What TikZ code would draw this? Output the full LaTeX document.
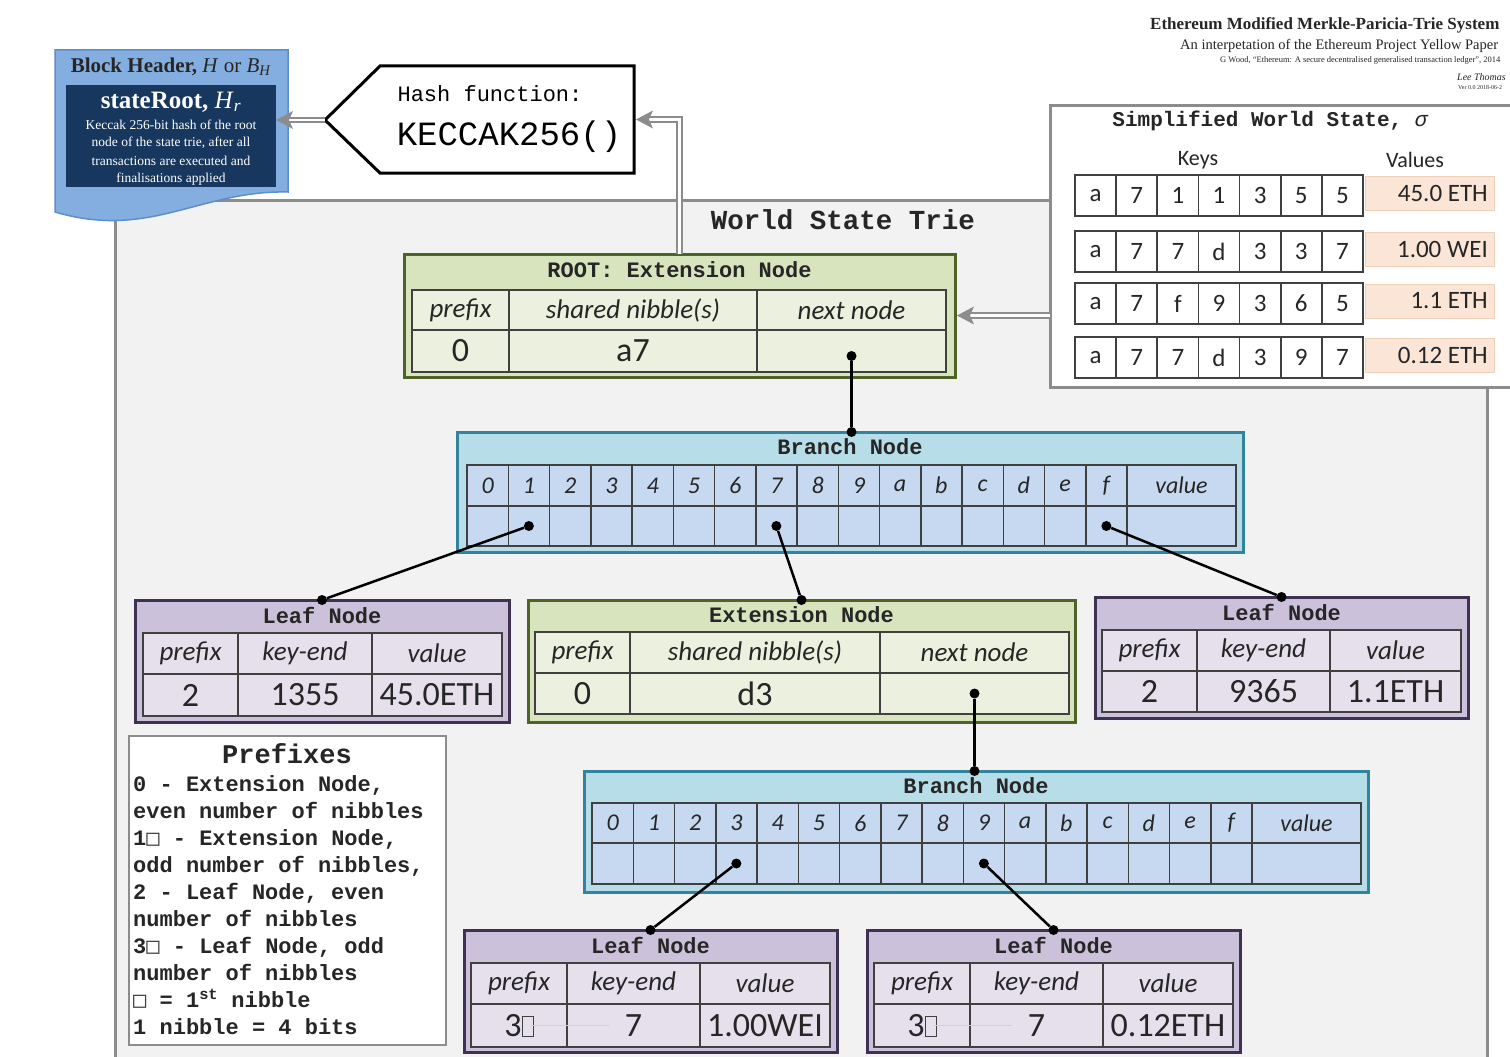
\documentclass[tikz,border=0pt]{standalone}
\usepackage{fontspec}
\usetikzlibrary{calc,arrows.meta}
\newfontfamily\calfont{Carlito}
\newfontfamily\monof{Liberation Mono}
\newfontfamily\serf{Liberation Serif}
\newfontfamily\djm{DejaVu Sans Mono}
\definecolor{grnF}{HTML}{D7E4BD}
\definecolor{grnC}{HTML}{EBF1DE}
\definecolor{grnB}{HTML}{4F6228}
\definecolor{cyF}{HTML}{B7DEE8}
\definecolor{cyC}{HTML}{C6D9F1}
\definecolor{cyB}{HTML}{31849B}
\definecolor{puF}{HTML}{CCC1DA}
\definecolor{puC}{HTML}{E5E0EC}
\definecolor{puB}{HTML}{3F3151}
\definecolor{cellB}{HTML}{404040}
\definecolor{trieF}{HTML}{F2F2F2}
\definecolor{trieB}{HTML}{8C8C8C}
\definecolor{bhF}{HTML}{85AEE0}
\definecolor{bhB}{HTML}{5B8FCB}
\definecolor{navy}{HTML}{17375E}
\definecolor{peach}{HTML}{FBE5D6}
\definecolor{arrG}{HTML}{8C8C8C}
\definecolor{txt}{HTML}{262626}
\newcommand\cellb[7]{\node[inner sep=0pt,outer sep=0pt,anchor=north west,minimum width={#5-#3},minimum height={#6-#4},#2] (#1) at (#3,#4) {#7};}
\newcommand\sqbox{{\djm\mdseries\color{darkgray}□}}
\newcommand\bigsq{{\color{darkgray}\setlength\fboxrule{1pt}\setlength\fboxsep{0pt}\fbox{\phantom{\rule{10pt}{19pt}}}}}
\newcommand\lefttip[1]{\fill[arrG] (#1) -- ($(#1)+(17,-9)$) -- ($(#1)+(13,0)$) -- ($(#1)+(17,9)$) -- cycle;}
\begin{document}
\begin{tikzpicture}[x=1pt,y=-1pt,
  greenbox/.style={draw=grnB,fill=grnF,line width=3pt},
  bluebox/.style={draw=cyB,fill=cyF,line width=3pt},
  purpbox/.style={draw=puB,fill=puF,line width=3pt},
  hdr/.style={font=\monof\bfseries\fontsize{22}{24}\selectfont,text=txt,inner sep=0pt},
  glab/.style={draw=cellB,fill=grnC,line width=1.5pt,text=txt,font=\calfont\itshape\fontsize{27}{30}\selectfont},
  gval/.style={glab,font=\calfont\fontsize{34}{36}\selectfont},
  plab/.style={draw=cellB,fill=puC,line width=1.5pt,text=txt,font=\calfont\itshape\fontsize{27}{30}\selectfont},
  pval/.style={plab,font=\calfont\fontsize{34}{36}\selectfont},
  blab/.style={draw=cellB,fill=cyC,line width=1.5pt,text=txt,font=\calfont\itshape\fontsize{24}{26}\selectfont},
  bcell/.style={draw=cellB,fill=cyC,line width=1.5pt},
  kcell/.style={draw=cellB,fill=white,line width=1.8pt,text=txt,font=\calfont\fontsize{25}{27}\selectfont},
  vcell/.style={fill=peach,draw=peach!80!brown,line width=0.5pt},
  vtext/.style={anchor=east,inner sep=0pt,text=txt,font=\calfont\fontsize{25}{27}\selectfont},
  conn/.style={line width=2.5pt,black},
  jdot/.style={circle,fill=black,inner sep=0pt,minimum size=10pt},
  dbl/.style={draw=arrG,line width=2pt,double=white,double distance=2.5pt,shorten >=12pt},
  ptext/.style={anchor=base west,inner sep=0pt,text=txt,font=\monof\bfseries\fontsize{22}{24}\selectfont},
  ttext/.style={anchor=west,inner sep=0pt,text=txt},
]
\useasboundingbox (0,0) rectangle (1510,1057);
\clip (0,0) rectangle (1510,1057);
\fill[white] (0,0) rectangle (1510,1057);

% title block top right
\node[ttext,font=\serf\bfseries\fontsize{17}{19}\selectfont] (t1) at (1150,25) {Ethereum Modified Merkle-Paricia-Trie System};
\node[ttext,font=\serf\fontsize{14.5}{16}\selectfont] (t2) at (1180,46) {An interpetation of the Ethereum Project Yellow Paper};
\node[ttext,font=\serf\fontsize{8.5}{9}\selectfont] (t3) at (1220,60) {G Wood, “Ethereum: A secure decentralised generalised transaction ledger”, 2014};
\node[ttext,font=\serf\itshape\fontsize{10}{11}\selectfont] (t4) at (1457,77) {Lee Thomas};
\node[ttext,font=\serf\fontsize{6}{7}\selectfont] (t5) at (1458,88) {Ver 0.0 2018-06-2};

% world state trie frame
\cellb{trie}{draw=trieB,fill=trieF,line width=3pt}{115}{200}{1487}{1080}{}
\node[font=\monof\bfseries\fontsize{27.5}{30}\selectfont,text=txt] (trietitle) at (843,220) {World State Trie};

% block header
\draw[fill=bhF,draw=bhB,line width=1.5pt] (55,50) -- (288,50) -- (288,192) .. controls (200,190) and (150,240) .. (55,212) -- cycle;
\node[font=\serf\fontsize{21}{23}\selectfont,text=txt] (bht) at (171,67) {\textbf{Block Header,} \textit{H} or \textit{B}\textsubscript{\textit{H}}};
\cellb{sr}{fill=navy}{66}{85}{276}{187}{}
\node[font=\serf\fontsize{25}{27}\selectfont,text=white] (srt) at (171,102) {\textbf{stateRoot,} \textit{H}\textsubscript{\textit{r}}};
\node[font=\serf\fontsize{13.5}{15}\selectfont,text=white] (srl1) at (171,125) {Keccak 256-bit hash of the root};
\node[font=\serf\fontsize{13.5}{15}\selectfont,text=white] (srl2) at (171,143) {node of the state trie, after all};
\node[font=\serf\fontsize{13.5}{15}\selectfont,text=white] (srl3) at (171,161) {transactions are executed and};
\node[font=\serf\fontsize{13.5}{15}\selectfont,text=white] (srl4) at (171,179) {finalisations applied};

% hash function
\cellb{hash}{}{380}{66}{634}{173}{}
\coordinate (hashtip) at (325,120);
\draw[black,line width=3pt,fill=white,line join=miter] (hashtip) -- (hash.north west) -- (hash.north east) -- (hash.south east) -- (hash.south west) -- cycle;
\node[font=\monof\fontsize{22}{24}\selectfont,text=black] (hashl) at (490,94) {Hash function:};
\node[font=\monof\fontsize{34}{36}\selectfont,text=black] (hashk) at (509,137) {KECCAK256()};

% simplified world state
\cellb{ws}{draw=trieB,fill=white,line width=3pt}{1050}{105}{1525}{387}{}
\node[font=\monof\bfseries\fontsize{21}{23}\selectfont,text=txt] (wst) at (1270,121) {Simplified World State, {\mdseries\itshape σ}};
\node[font=\calfont\fontsize{22}{24}\selectfont,text=txt] (wskeys) at (1198,160) {Keys};
\node[font=\calfont\fontsize{22}{24}\selectfont,text=txt] (wsvals) at (1415,160) {Values};
\foreach \r/\yt/\ka/\kb/\kc/\kd/\ke/\kf/\kg/\val in {1/175/a/7/1/1/3/5/5/45.0 ETH, 2/231/a/7/7/d/3/3/7/1.00 WEI, 3/283/a/7/f/9/3/6/5/1.1 ETH, 4/337/a/7/7/d/3/9/7/0.12 ETH}{
  \foreach \j/\k in {0/\ka,1/\kb,2/\kc,3/\kd,4/\ke,5/\kf,6/\kg}{
    \pgfmathsetmacro\xa{1075+\j*41.14}\pgfmathsetmacro\xb{\xa+41.14}\pgfmathsetmacro\yb{\yt+41}
    \cellb{ws-k\r-\j}{kcell}{\xa}{\yt}{\xb}{\yb}{\k}
  }
  \pgfmathsetmacro\ya{\yt+1}\pgfmathsetmacro\yc{\yt+35}
  \cellb{ws-v\r}{vcell}{1365}{\ya}{1494}{\yc}{}
  \node[vtext] (ws-vt\r) at ($(ws-v\r.east)+(-6,0)$) {\val};
}

% ROOT extension node
\cellb{root}{greenbox}{404}{254}{955}{377}{}
\node[hdr] (roott) at (679.5,270) {ROOT: Extension Node};
\cellb{r-h1}{glab}{412}{290}{509}{330}{prefix}
\cellb{r-h2}{glab}{509}{290}{757}{330}{shared nibble(s)}
\cellb{r-h3}{glab}{757}{290}{946}{330}{next node}
\cellb{r-v1}{gval}{412}{330}{509}{372}{0}
\cellb{r-v2}{gval}{509}{330}{757}{372}{a7}
\cellb{r-v3}{gval}{757}{330}{946}{372}{}

% double arrows
\coordinate (srE) at (sr.east |- hashtip);
\coordinate (hashE) at ($(hash.east)+(2,0)$);
\coordinate (rootE) at ($(root.east)+(2,0)$);
\draw[dbl] (hashtip) -- (srE);
\lefttip{srE}
\draw[dbl] (root.north) |- (hashE);
\lefttip{hashE}
\draw[dbl] (ws.west |- root.east) -- (rootE);
\lefttip{rootE}

% Branch node 1
\cellb{b1}{bluebox}{457}{432}{1243}{552}{}
\node[hdr] (b1t) at (850,447) {Branch Node};
\foreach \i/\l in {0/0,1/1,2/2,3/3,4/4,5/5,6/6,7/7,8/8,9/9,10/a,11/b,12/c,13/d,14/e,15/f}{
  \pgfmathsetmacro\xa{467+\i*41.25}\pgfmathsetmacro\xb{\xa+41.25}
  \cellb{b1h\i}{blab}{\xa}{465}{\xb}{506}{\l}
  \cellb{b1v\i}{bcell}{\xa}{506}{\xb}{546}{}
}
\cellb{b1hv}{blab}{1127}{465}{1236}{506}{value}
\cellb{b1vv}{bcell}{1127}{506}{1236}{546}{}

% Leaf left
\cellb{lL}{purpbox}{135}{600}{509}{722}{}
\node[hdr] (lLt) at (322,615) {Leaf Node};
\cellb{lL-h1}{plab}{143}{633}{238}{674}{prefix}
\cellb{lL-h2}{plab}{238}{633}{372}{674}{key-end}
\cellb{lL-h3}{plab}{372}{633}{502}{674}{value}
\cellb{lL-v1}{pval}{143}{674}{238}{716}{2}
\cellb{lL-v2}{pval}{238}{674}{372}{716}{1355}
\cellb{lL-v3}{pval}{372}{674}{502}{716}{45.0ETH}

% Extension middle
\cellb{ex}{greenbox}{528}{600}{1075}{722}{}
\node[hdr] (ext) at (801.5,615) {Extension Node};
\cellb{e-h1}{glab}{535}{632}{630}{673}{prefix}
\cellb{e-h2}{glab}{630}{632}{880}{673}{shared nibble(s)}
\cellb{e-h3}{glab}{880}{632}{1069}{673}{next node}
\cellb{e-v1}{gval}{535}{673}{630}{714}{0}
\cellb{e-v2}{gval}{630}{673}{880}{714}{d3}
\cellb{e-v3}{gval}{880}{673}{1069}{714}{}

% Leaf right
\cellb{lR}{purpbox}{1095}{597}{1468}{718}{}
\node[hdr] (lRt) at (1281.5,612) {Leaf Node};
\cellb{lR-h1}{plab}{1102}{630}{1197}{671}{prefix}
\cellb{lR-h2}{plab}{1197}{630}{1330}{671}{key-end}
\cellb{lR-h3}{plab}{1330}{630}{1461}{671}{value}
\cellb{lR-v1}{pval}{1102}{671}{1197}{712}{2}
\cellb{lR-v2}{pval}{1197}{671}{1330}{712}{9365}
\cellb{lR-v3}{pval}{1330}{671}{1461}{712}{1.1ETH}

% Branch node 2
\cellb{b2}{bluebox}{584}{771}{1368}{892}{}
\node[hdr] (b2t) at (976,786) {Branch Node};
\foreach \i/\l in {0/0,1/1,2/2,3/3,4/4,5/5,6/6,7/7,8/8,9/9,10/a,11/b,12/c,13/d,14/e,15/f}{
  \pgfmathsetmacro\xa{592+\i*41.25}\pgfmathsetmacro\xb{\xa+41.25}
  \cellb{b2h\i}{blab}{\xa}{803}{\xb}{843}{\l}
  \cellb{b2v\i}{bcell}{\xa}{843}{\xb}{884}{}
}
\cellb{b2hv}{blab}{1252}{803}{1361}{843}{value}
\cellb{b2vv}{bcell}{1252}{843}{1361}{884}{}

% Leaf bottom left
\cellb{lA}{purpbox}{464}{930}{837}{1052}{}
\node[hdr] (lAt) at (650.5,945) {Leaf Node};
\cellb{lA-h1}{plab}{471}{963}{567}{1004}{prefix}
\cellb{lA-h2}{plab}{567}{963}{700}{1004}{key-end}
\cellb{lA-h3}{plab}{700}{963}{830}{1004}{value}
\cellb{lA-v1}{pval}{471}{1004}{567}{1047}{3\bigsq}
\cellb{lA-v2}{pval}{567}{1004}{700}{1047}{7}
\cellb{lA-v3}{pval}{700}{1004}{830}{1047}{1.00WEI}
\draw[gray!35,line width=1pt] ($(lA-v1.center)+(12,0)$) -- ($(lA-v2.center)+(-25,0)$);

% Leaf bottom right
\cellb{lB}{purpbox}{867}{930}{1240}{1052}{}
\node[hdr] (lBt) at (1053.5,945) {Leaf Node};
\cellb{lB-h1}{plab}{874}{963}{970}{1004}{prefix}
\cellb{lB-h2}{plab}{970}{963}{1103}{1004}{key-end}
\cellb{lB-h3}{plab}{1103}{963}{1233}{1004}{value}
\cellb{lB-v1}{pval}{874}{1004}{970}{1047}{3\bigsq}
\cellb{lB-v2}{pval}{970}{1004}{1103}{1047}{7}
\cellb{lB-v3}{pval}{1103}{1004}{1233}{1047}{0.12ETH}
\draw[gray!35,line width=1pt] ($(lB-v1.center)+(12,0)$) -- ($(lB-v2.center)+(-25,0)$);

% connectors
\node[jdot] (d-r) at ($(r-v3.center)+(0,5)$) {};
\node[jdot] (d-b1) at (d-r |- b1.north) {};
\draw[conn] (d-r) -- (d-b1);
\node[jdot] (d-b1c1) at (b1v1.center) {};
\node[jdot] (d-lL) at (lL.north) {};
\draw[conn] (d-b1c1) -- (d-lL);
\node[jdot] (d-b1c7) at (b1v7.center) {};
\node[jdot] (d-ex) at (ex.north) {};
\draw[conn] (d-b1c7) -- (d-ex);
\node[jdot] (d-b1cf) at (b1v15.center) {};
\node[jdot] (d-lR) at (lR.north) {};
\draw[conn] (d-b1cf) -- (d-lR);
\node[jdot] (d-e) at (e-v3.center) {};
\node[jdot] (d-b2) at (d-e |- b2.north) {};
\draw[conn] (d-e) -- (d-b2);
\node[jdot] (d-b2c3) at (b2v3.center) {};
\node[jdot] (d-lA) at (lA.north) {};
\draw[conn] (d-b2c3) -- (d-lA);
\node[jdot] (d-b2c9) at (b2v9.center) {};
\node[jdot] (d-lB) at (lB.north) {};
\draw[conn] (d-b2c9) -- (d-lB);

% prefixes legend
\cellb{pref}{draw=trieB,fill=white,line width=2.5pt}{129}{736}{446}{1045}{}
\node[font=\monof\bfseries\fontsize{27}{29}\selectfont,text=txt] (preft) at (287,754) {Prefixes};
\node[ptext] (p1) at (133,791) {0 - Extension Node,};
\node[ptext] (p2) at (133,818) {even number of nibbles};
\node[ptext] (p3) at (133,845) {1\sqbox{} - Extension Node,};
\node[ptext] (p4) at (133,872) {odd number of nibbles,};
\node[ptext] (p5) at (133,899) {2 - Leaf Node, even};
\node[ptext] (p6) at (133,926) {number of nibbles};
\node[ptext] (p7) at (133,953) {3\sqbox{} - Leaf Node, odd};
\node[ptext] (p8) at (133,980) {number of nibbles};
\node[ptext] (p9) at (133,1007) {\sqbox{} = 1\textsuperscript{st} nibble};
\node[ptext] (p10) at (133,1034) {1 nibble = 4 bits};
\end{tikzpicture}
\end{document}
